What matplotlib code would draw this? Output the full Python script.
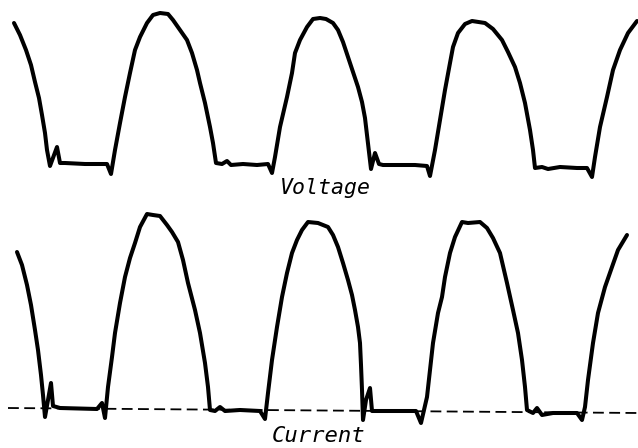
import matplotlib.pyplot as plt

# traced oscillogram, pixel coordinates (y grows downward)
volt_x = [14, 20, 26, 31, 35, 39, 42, 45, 47, 50, 57, 60, 65, 85, 107, 111,
          115, 120, 125, 130, 135, 140, 147, 153, 160, 168, 173, 180, 187, 192, 197,
          200, 205, 210, 213, 216, 222, 227, 231, 243, 257, 268, 272,
          275, 280, 287, 292, 295, 300, 307, 313, 320, 326, 333, 338, 343, 348, 353,
          358, 362, 365, 367, 369, 371, 375, 379, 383, 400, 415, 427, 430,
          435, 440, 445, 450, 453, 458, 465, 472, 485, 493, 502, 508, 515, 520,
          525, 530, 533, 535, 542, 548, 560, 577, 587, 592,
          595, 600, 607, 613, 620, 628, 637]
volt_y = [23, 35, 50, 65, 82, 98, 115, 133, 150, 166, 147, 163, 163, 164, 164, 174,
          150, 123, 97, 73, 50, 37, 23, 15, 13, 14, 20, 30, 40, 53, 70,
          83, 103, 127, 143, 163, 164, 161, 165, 164, 165, 164, 173,
          157, 127, 97, 73, 53, 40, 27, 19, 18, 19, 23, 30, 42, 57, 72,
          87, 102, 118, 135, 152, 169, 153, 164, 165, 165, 165, 166, 176,
          150, 120, 90, 63, 47, 33, 24, 21, 23, 29, 40, 52, 67, 83,
          103, 130, 150, 168, 167, 169, 167, 168, 168, 177,
          157, 127, 97, 70, 50, 33, 21]

curr_x = [17, 22, 27, 31, 35, 38, 41, 43, 45, 51, 53, 60, 97, 102, 105,
          108, 112, 115, 120, 125, 130, 135, 140, 147, 153, 160, 167, 172, 178,
          183, 188, 195, 200, 205, 208, 210, 215, 220, 225, 240, 260, 265,
          268, 272, 277, 282, 287, 292, 297, 302, 308, 318, 328, 333, 338, 343,
          348, 352, 355, 358, 360, 361, 362, 363, 366, 370, 372, 390, 416, 421,
          427, 430, 433, 438, 442, 445, 450, 455, 462, 468, 480, 487, 493, 500,
          507, 513, 518, 522, 525, 527, 533, 537, 542, 553, 577, 582,
          585, 588, 593, 598, 605, 612, 618, 627]
curr_y = [252, 265, 285, 305, 330, 350, 375, 395, 417, 383, 406, 408, 409, 403, 418,
          387, 357, 333, 303, 277, 258, 243, 227, 214, 215, 216, 225, 232, 242,
          260, 283, 310, 333, 363, 387, 410, 411, 407, 411, 410, 411, 419,
          393, 360, 327, 297, 273, 253, 240, 230, 222, 223, 227, 235, 247, 263,
          280, 295, 310, 327, 343, 365, 390, 420, 400, 388, 411, 411, 411, 423,
          397, 370, 343, 313, 297, 277, 253, 237, 222, 223, 222, 228, 238, 253,
          283, 310, 333, 360, 387, 410, 413, 408, 415, 413, 413, 420,
          407, 380, 343, 313, 287, 267, 250, 235]

# zero line under the current trace
zero_x = [8, 638]
zero_y = [408, 413]

fig = plt.figure(figsize=(6.38, 4.48), dpi=100)
ax = fig.add_axes([0, 0, 1, 1])
ax.set_xlim(0, 638)
ax.set_ylim(448, 0)
ax.axis('off')

ax.plot(volt_x, volt_y, color='black', lw=2.9, solid_joinstyle='round', solid_capstyle='round')
ax.plot(curr_x, curr_y, color='black', lw=2.9, solid_joinstyle='round', solid_capstyle='round')
ax.plot(zero_x, zero_y, color='black', lw=1.3, dashes=(6, 3))

ax.text(325, 188, 'Voltage', family='DejaVu Sans Mono', style='italic', fontsize=15.5,
        ha='center', va='center')
ax.text(319, 436, 'Current', family='DejaVu Sans Mono', style='italic', fontsize=16,
        ha='center', va='center')

fig.savefig('out.png', dpi=100, facecolor='white')
